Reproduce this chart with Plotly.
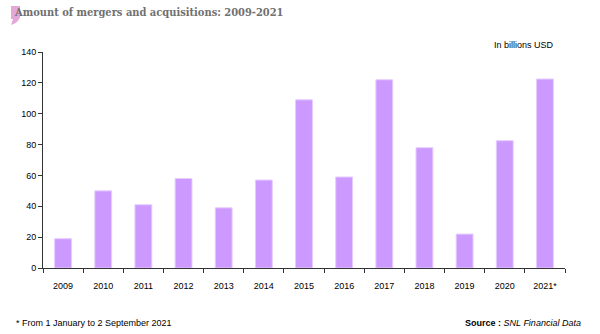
import plotly.graph_objects as go

years = ["2009", "2010", "2011", "2012", "2013", "2014", "2015",
         "2016", "2017", "2018", "2019", "2020", "2021*"]
values = [19, 50, 41, 58, 39, 57, 109, 59, 122, 78, 22, 82.5, 122.5]
y_ticks = [0, 20, 40, 60, 80, 100, 120, 140]

fig = go.Figure()
fig.add_trace(go.Bar(
    x=years, y=values,
    marker=dict(color="#cc99ff", line=dict(color="#e6ccff", width=1)),
    width=0.42,
))

axis_color = "#333333"
fig.update_layout(
    width=600, height=334,
    margin=dict(l=43, r=35, t=52, b=66),
    paper_bgcolor="white", plot_bgcolor="white",
    showlegend=False,
    font=dict(family="Liberation Sans, Arial, sans-serif", size=9, color="black"),
    xaxis=dict(
        type="category", showgrid=False, showline=True, linecolor=axis_color,
        linewidth=1, ticks="outside", tickson="boundaries", ticklen=4,
        tickcolor=axis_color, tickfont=dict(size=9), zeroline=False,
        ticklabelstandoff=9,
    ),
    yaxis=dict(
        range=[0, 140], tickvals=y_ticks, showgrid=False, showline=True,
        linecolor=axis_color, linewidth=1, ticks="outside", ticklen=4,
        tickcolor=axis_color, tickfont=dict(size=9), zeroline=False,
    ),
)

W, H = 600, 334
l, r, t, b = 43, 35, 52, 66
pw, ph = W - l - r, H - t - b
def px(x):
    return (x - l) / pw
def py(y):
    return (H - b - y) / ph
path = (f"M {px(11)} {py(6)} L {px(20)} {py(6)} L {px(20)} {py(17)} "
        f"Q {px(19)} {py(22)} {px(11)} {py(25)} L {px(13)} {py(19)} L {px(11)} {py(19)} Z")
fig.layout.shapes = [dict(type="path", xref="paper", yref="paper", path=path,
                          fillcolor="#e4a8d8", line=dict(width=0), layer="below")]

fig.add_annotation(
    text="Amount of mergers and acquisitions: 2009-2021",
    xref="paper", yref="paper", x=px(12), y=py(13), xanchor="left", yanchor="middle",
    showarrow=False,
    font=dict(family="DejaVu Serif Condensed, DejaVu Serif, serif", size=11,
              color="#707070", weight="bold"),
)
fig.add_annotation(
    text="In billions USD", xref="paper", yref="paper",
    x=px(556), y=py(45), xanchor="right", yanchor="middle", showarrow=False,
    font=dict(size=9, color="black"),
)
fig.add_annotation(
    text="* From 1 January to 2 September 2021", xref="paper", yref="paper",
    x=px(14), y=py(323), xanchor="left", yanchor="middle", showarrow=False,
    font=dict(size=9, color="black"),
)
fig.add_annotation(
    text="<b>Source :</b> <i>SNL Financial Data</i>", xref="paper", yref="paper",
    x=px(583), y=py(323), xanchor="right", yanchor="middle", showarrow=False,
    font=dict(size=9, color="black"),
)

fig.write_html("out.html")
